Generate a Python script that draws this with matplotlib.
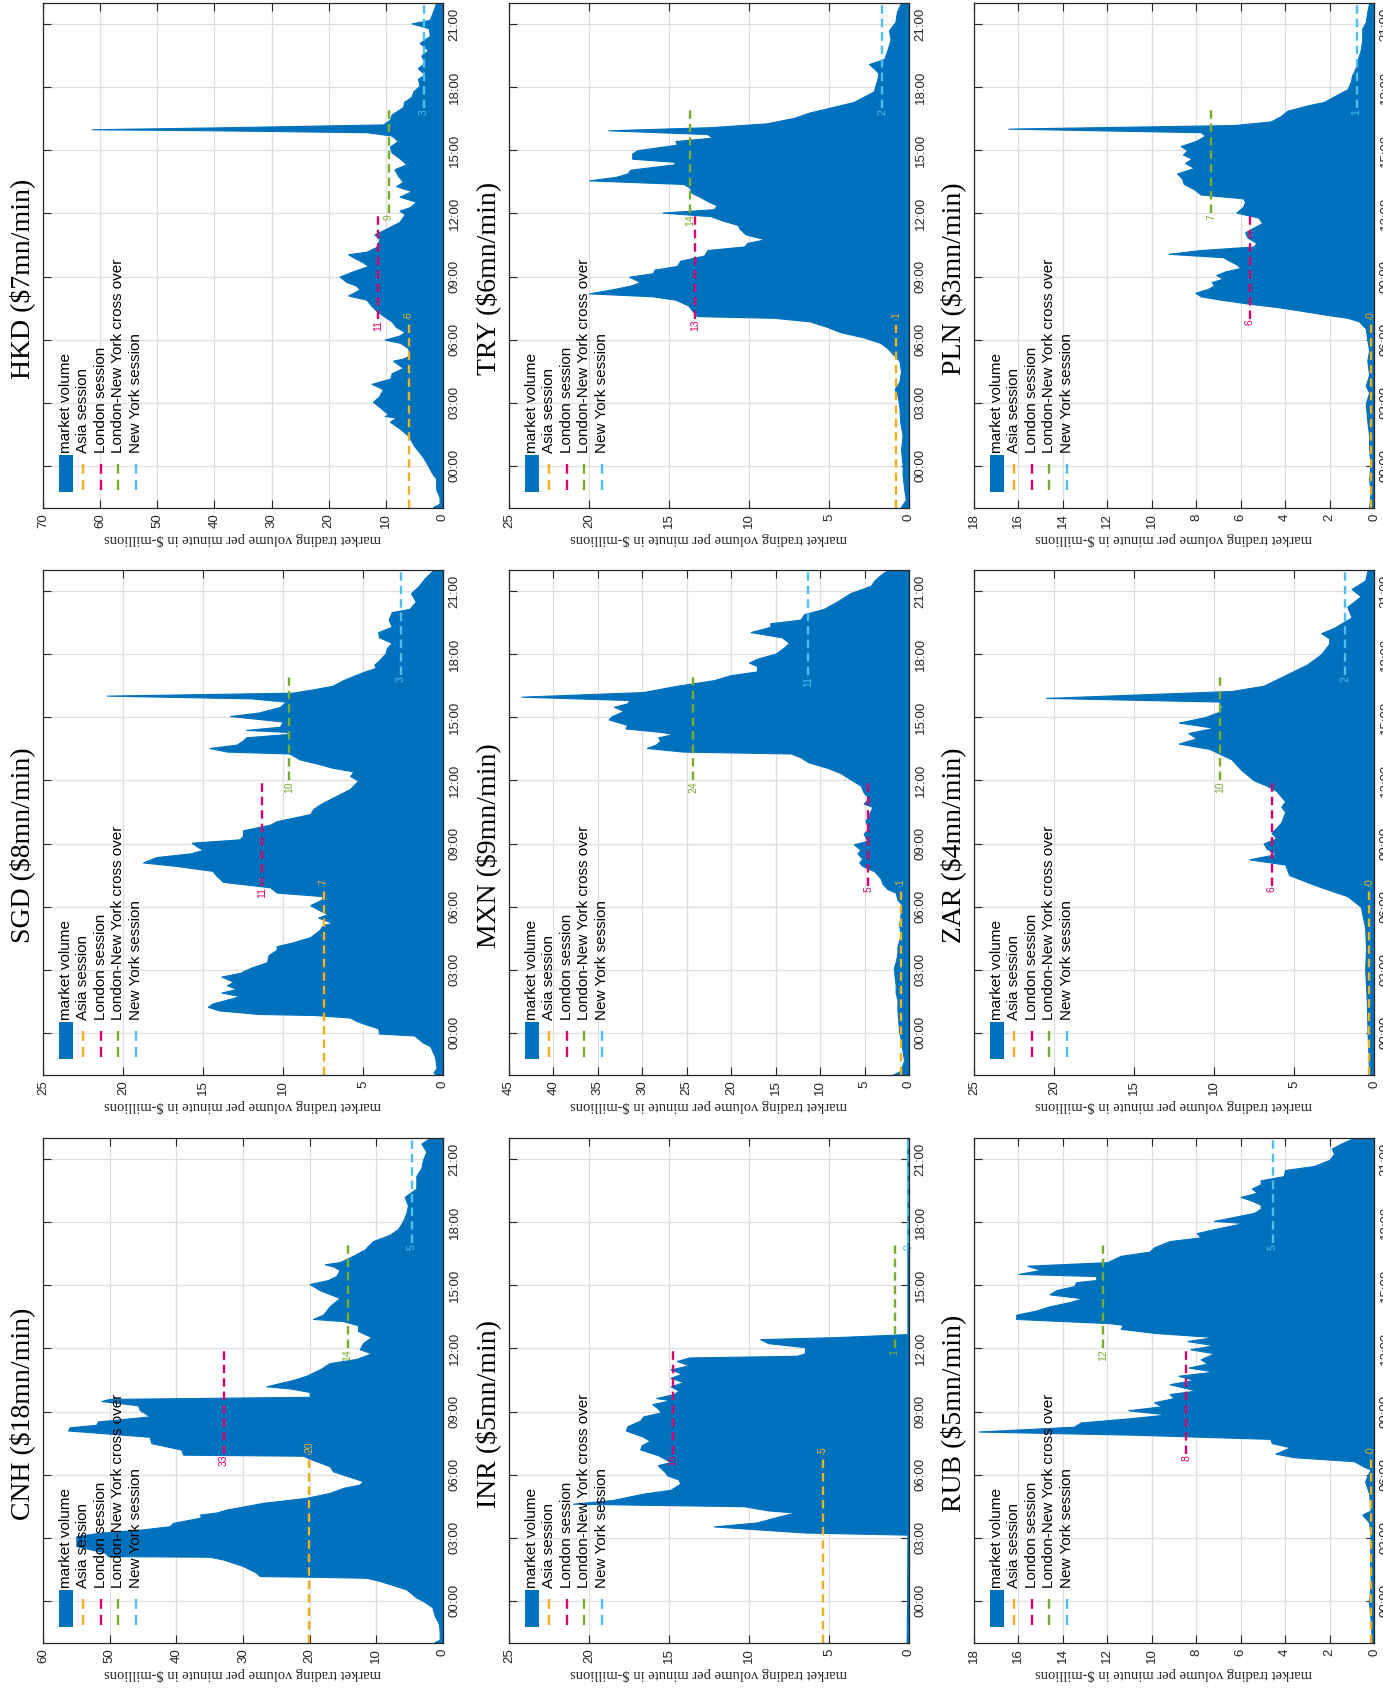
import matplotlib
matplotlib.use("Agg")
import matplotlib.pyplot as plt
from matplotlib.patches import Rectangle

# ---------------- data (hour of day, volume in $-millions per minute) ----------------
TIME_TICKS = [0, 3, 6, 9, 12, 15, 18, 21]
TIME_LABELS = ["00:00", "03:00", "06:00", "09:00", "12:00", "15:00", "18:00", "21:00"]
LEGEND_LABELS = ["market volume", "Asia session", "London session",
                 "London-New York cross over", "New York session"]
SESSION_SPANS = [(-2, 7), (7, 12), (12, 17), (17, 22)]

HKD_PROFILE = [(-2.0, 0.3), (-1.95, 1.75), (-1.8, 0.6), (-1.5, 0.6), (-1.1, 1.2), (-0.6, 1.2),
    (-0.42, 1.75), (0.0, 2.6), (0.42, 3.5), (0.93, 5.0), (1.44, 6.1), (1.78, 7.6), (2.1, 9.3),
    (2.3, 8.2), (2.37, 10.2), (2.45, 9.6), (2.8, 11.1), (3.05, 12.25), (3.3, 11.2), (3.65, 10.5),
    (3.9, 12.5), (4.15, 9.2), (4.4, 9.0), (4.66, 7.0), (5.0, 8.75), (5.1, 7.0), (5.25, 5.8),
    (5.6, 6.1), (5.85, 7.5), (6.0, 10.2), (6.2, 7.6), (6.36, 6.7), (6.6, 8.2), (6.87, 9.0),
    (7.2, 10.8), (7.38, 11.7), (7.6, 12.5), (7.9, 13.4), (8.1, 16.6), (8.25, 15.5), (8.4, 14.6),
    (8.57, 15.2), (8.74, 16.9), (9.0, 18.1), (9.25, 15.75), (9.5, 13.1), (9.67, 14.0),
    (9.92, 15.75), (10.06, 16.6), (10.18, 13.4), (10.4, 11.7), (10.77, 11.1), (11.0, 12.0),
    (11.28, 9.9), (11.6, 7.6), (11.96, 6.7), (12.13, 7.6), (12.3, 5.8), (12.55, 4.7), (12.8, 7.6),
    (13.06, 5.5), (13.3, 8.2), (13.5, 7.0), (13.8, 7.9), (14.1, 8.5), (14.33, 6.4), (14.6, 7.5),
    (14.9, 9.0), (15.18, 9.3), (15.44, 7.9), (15.7, 9.0), (15.86, 13.4), (15.95, 40.0),
    (16.0, 61.5), (16.1, 36.8), (16.23, 10.5), (16.45, 9.3), (16.7, 9.0), (17.05, 7.0),
    (17.3, 6.8), (17.55, 5.5), (17.8, 5.2), (18.07, 4.1), (18.4, 4.4), (18.6, 3.2), (18.9, 4.4),
    (19.17, 3.2), (19.5, 3.8), (19.76, 2.6), (20.1, 4.1), (20.44, 2.3), (20.8, 2.5), (21.03, 5.5),
    (21.2, 2.3), (21.6, 1.75), (22.0, 1.2)]

SGD_PROFILE = [(-2.0, 0.3), (-1.9, 0.6), (-1.65, 0.4), (-1.14, 0.5), (-0.63, 0.8), (-0.46, 1.25),
    (-0.12, 1.8), (-0.03, 4.0), (0.22, 4.05), (0.4, 4.8), (0.56, 5.4), (0.73, 5.8), (0.85, 8.0),
    (0.9, 11.5), (1.07, 14.0), (1.24, 14.7), (1.4, 14.4), (1.58, 13.5), (1.75, 12.7),
    (1.92, 13.85), (2.09, 12.9), (2.26, 13.5), (2.43, 13.1), (2.68, 13.85), (2.85, 12.7),
    (3.1, 12.0), (3.36, 11.0), (3.7, 10.9), (3.95, 10.4), (4.12, 10.4), (4.3, 9.4), (4.55, 8.3),
    (4.9, 7.7), (5.14, 7.5), (5.22, 6.9), (5.48, 7.8), (5.65, 7.2), (5.82, 7.7), (6.07, 8.3),
    (6.33, 7.6), (6.5, 7.5), (6.67, 10.4), (6.92, 10.8), (7.18, 13.75), (7.5, 14.2), (7.7, 14.4),
    (7.94, 16.7), (8.1, 18.75), (8.36, 17.9), (8.53, 15.8), (8.7, 15.0), (8.87, 15.4),
    (9.04, 15.7), (9.2, 12.7), (9.38, 12.5), (9.63, 12.5), (9.9, 10.8), (10.06, 10.4),
    (10.4, 8.3), (10.65, 8.1), (10.9, 7.6), (11.25, 6.7), (11.6, 5.8), (11.76, 5.6), (12.0, 5.3),
    (12.2, 5.8), (12.43, 5.6), (12.6, 6.9), (12.77, 7.7), (13.0, 8.96), (13.28, 9.6),
    (13.37, 13.5), (13.54, 14.6), (13.7, 12.9), (13.9, 12.5), (14.05, 12.3), (14.2, 9.8),
    (14.3, 9.6), (14.4, 12.3), (14.55, 10.2), (14.8, 10.0), (15.06, 13.3), (15.23, 11.5),
    (15.49, 10.2), (15.74, 9.8), (15.9, 12.0), (16.03, 21.0), (16.17, 9.4), (16.33, 8.1),
    (16.5, 6.9), (16.76, 6.25), (17.0, 5.5), (17.2, 4.8), (17.35, 4.2), (17.5, 4.3), (17.7, 4.0),
    (18.03, 3.6), (18.3, 3.5), (18.54, 3.2), (18.8, 4.0), (19.05, 4.05), (19.3, 3.2),
    (19.64, 3.4), (20.0, 3.2), (20.15, 2.1), (20.5, 1.7), (20.9, 2.0), (21.25, 1.5),
    (21.6, 1.15), (22.0, 0.6)]

CNH_PROFILE = [(-2.0, 0.5), (-1.95, 1.25), (-1.85, 0.5), (-1.5, 0.5), (-1.1, 0.6), (-0.7, 1.25),
    (-0.3, 1.6), (0.0, 3.0), (0.16, 4.0), (0.55, 5.5), (0.95, 9.5), (1.1, 11.5), (1.15, 20.0),
    (1.18, 27.5), (1.34, 28.0), (1.5, 29.0), (1.66, 30.0), (1.97, 33.0), (2.1, 35.0),
    (2.13, 50.25), (2.3, 50.75), (2.6, 55.0), (2.85, 55.0), (3.08, 55.0), (3.24, 51.5),
    (3.4, 45.0), (3.55, 41.0), (3.71, 40.5), (3.95, 36.5), (4.03, 36.25), (4.1, 36.5),
    (4.2, 34.0), (4.34, 32.5), (4.66, 27.0), (4.9, 20.5), (5.13, 17.0), (5.37, 15.0),
    (5.53, 12.5), (5.69, 12.0), (5.85, 13.5), (6.16, 16.5), (6.4, 17.0), (6.7, 19.5),
    (6.9, 21.0), (6.95, 39.0), (7.19, 39.25), (7.5, 43.75), (7.8, 44.0), (7.95, 50.0),
    (8.1, 56.25), (8.25, 56.0), (8.37, 52.0), (8.53, 51.75), (8.77, 44.0), (9.08, 45.5),
    (9.3, 45.75), (9.5, 51.25), (9.6, 50.0), (9.7, 20.0), (9.93, 20.0), (10.1, 23.0),
    (10.2, 26.5), (10.5, 22.5), (10.7, 20.5), (11.0, 18.5), (11.3, 17.0), (11.5, 13.0),
    (11.77, 10.75), (11.96, 12.5), (12.25, 12.0), (12.54, 10.75), (12.83, 12.75), (13.1, 12.75),
    (13.3, 15.0), (13.4, 19.5), (13.6, 18.0), (14.0, 17.0), (14.4, 15.5), (14.77, 18.5),
    (15.06, 20.0), (15.25, 17.25), (15.44, 16.0), (15.73, 15.5), (15.9, 16.5), (16.0, 17.75),
    (16.1, 15.5), (16.4, 13.5), (16.7, 11.75), (17.1, 10.5), (17.4, 8.0), (17.67, 6.75),
    (18.05, 6.0), (18.44, 5.5), (18.8, 5.25), (19.2, 5.75), (19.6, 4.0), (20.2, 4.0),
    (20.57, 3.25), (20.96, 3.0), (21.35, 2.5), (21.73, 3.25), (22.0, 2.0)]

TRY_PROFILE = [(-2.0, 0.3), (-1.95, 0.5), (-1.6, 0.2), (-1.1, 0.3), (-0.42, 0.4), (0.08, 0.4),
    (0.76, 0.5), (1.44, 0.4), (2.12, 0.55), (2.8, 0.6), (3.3, 0.7), (3.65, 0.9), (4.0, 0.6),
    (4.5, 0.5), (5.0, 0.6), (5.34, 1.05), (5.6, 1.35), (5.85, 1.8), (6.1, 2.8), (6.36, 4.3),
    (6.6, 5.1), (6.87, 6.2), (7.04, 8.45), (7.12, 13.25), (7.38, 13.55), (7.63, 13.8),
    (7.9, 14.6), (8.06, 16.0), (8.2, 20.0), (8.4, 18.5), (8.57, 17.4), (8.74, 16.8),
    (8.99, 17.5), (9.16, 16.0), (9.33, 15.9), (9.5, 14.5), (9.75, 14.3), (10.0, 12.8),
    (10.26, 12.6), (10.43, 10.3), (10.6, 10.1), (10.77, 9.0), (11.0, 10.2), (11.28, 10.6),
    (11.45, 10.7), (11.7, 11.8), (11.87, 12.4), (12.04, 15.4), (12.2, 12.2), (12.38, 12.0),
    (12.55, 12.5), (12.8, 13.1), (12.98, 13.6), (13.23, 13.7), (13.4, 14.1), (13.57, 20.0),
    (13.74, 18.3), (13.9, 17.6), (14.08, 17.4), (14.33, 14.7), (14.45, 14.6), (14.6, 17.3),
    (14.84, 17.3), (15.0, 17.0), (15.27, 14.5), (15.44, 14.6), (15.6, 12.3), (15.77, 12.6),
    (15.95, 18.8), (16.1, 12.4), (16.28, 8.9), (16.54, 7.2), (16.8, 6.2), (17.05, 4.8),
    (17.3, 3.45), (17.56, 2.8), (17.8, 2.2), (18.07, 2.1), (18.32, 2.0), (18.66, 1.9),
    (18.9, 2.2), (19.1, 2.5), (19.34, 1.55), (19.76, 1.35), (20.27, 1.15), (20.7, 1.25),
    (21.1, 0.85), (21.6, 0.75), (22.0, 0.5)]

MXN_PROFILE = [(-2.0, 1.9), (-1.8, 0.94), (-1.3, 0.56), (-0.8, 0.75), (-0.3, 0.94), (0.05, 1.1),
    (0.56, 1.2), (1.07, 1.3), (1.58, 1.3), (1.9, 1.5), (2.26, 1.5), (2.6, 1.6), (3.1, 1.7),
    (3.36, 1.5), (3.78, 1.3), (4.12, 1.3), (4.63, 0.94), (5.14, 1.1), (5.65, 0.94), (6.07, 0.75),
    (6.33, 1.3), (6.67, 1.5), (6.84, 2.44), (7.1, 3.0), (7.35, 3.2), (7.68, 3.9), (7.94, 5.26),
    (8.1, 5.6), (8.28, 5.26), (8.53, 5.8), (8.7, 5.45), (8.96, 6.2), (9.13, 4.7), (9.47, 5.1),
    (9.72, 4.5), (10.06, 4.9), (10.4, 4.5), (10.74, 4.1), (10.9, 5.1), (11.16, 4.5),
    (11.42, 5.1), (11.76, 5.45), (12.0, 6.4), (12.35, 7.7), (12.6, 9.2), (12.86, 11.3),
    (13.1, 12.2), (13.28, 13.3), (13.37, 25.4), (13.54, 29.5), (13.7, 28.5), (13.88, 28.0),
    (14.05, 28.2), (14.2, 26.5), (14.3, 27.8), (14.47, 31.9), (14.64, 31.7), (14.9, 33.8),
    (15.06, 33.4), (15.3, 32.1), (15.5, 33.2), (15.66, 31.7), (15.82, 31.4), (15.98, 43.6),
    (16.2, 29.9), (16.5, 26.1), (16.76, 22.0), (17.0, 20.1), (17.18, 17.1), (17.44, 17.1),
    (17.6, 18.0), (17.78, 17.1), (18.03, 15.0), (18.3, 14.1), (18.54, 13.5), (18.8, 14.3),
    (19.05, 17.8), (19.3, 15.6), (19.47, 15.6), (19.64, 12.2), (19.9, 11.8), (20.15, 9.6),
    (20.5, 8.1), (20.9, 6.6), (21.25, 4.3), (21.5, 3.9), (21.76, 3.2), (22.0, 2.44)]

INR_PROFILE = [(-2.0, 0.15), (0.0, 0.12), (3.0, 0.1), (3.15, 0.1), (3.25, 6.5), (3.54, 12.2),
    (3.73, 9.5), (4.0, 8.2), (4.2, 7.1), (4.3, 8.8), (4.5, 10.3), (4.62, 21.0), (4.8, 18.5),
    (5.1, 16.6), (5.28, 14.9), (5.57, 14.3), (5.77, 14.4), (5.96, 15.1), (6.16, 15.3),
    (6.45, 15.7), (6.6, 14.9), (6.93, 15.7), (7.2, 16.8), (7.4, 16.7), (7.6, 16.2), (7.8, 16.6),
    (8.1, 17.7), (8.3, 17.6), (8.57, 16.8), (8.77, 16.6), (8.96, 15.5), (9.15, 15.7),
    (9.35, 16.05), (9.54, 14.9), (9.64, 15.8), (9.83, 14.7), (10.0, 14.4), (10.2, 14.9),
    (10.4, 14.1), (10.6, 14.9), (10.8, 14.2), (11.0, 14.9), (11.2, 13.75), (11.4, 14.5),
    (11.57, 13.75), (11.65, 7.0), (11.77, 6.5), (12.06, 6.5), (12.25, 8.8), (12.44, 9.3),
    (12.54, 4.45), (12.68, 0.1), (22.0, 0.1)]

PLN_PROFILE = [(-2.0, 0.22), (-1.27, 0.15), (-0.6, 0.22), (0.08, 0.15), (0.76, 0.22), (1.44, 0.22),
    (2.12, 0.3), (2.97, 0.37), (3.48, 0.22), (3.82, 0.37), (4.33, 0.22), (5.0, 0.3), (5.5, 0.22),
    (6.0, 0.3), (6.53, 0.37), (6.87, 0.68), (7.04, 1.2), (7.2, 2.25), (7.38, 3.3), (7.55, 4.35),
    (7.72, 5.7), (7.9, 6.9), (8.06, 7.8), (8.23, 8.04), (8.4, 7.5), (8.57, 7.2), (8.74, 7.3),
    (8.9, 6.8), (9.07, 7.1), (9.24, 6.7), (9.41, 6.0), (9.58, 6.2), (9.75, 6.5), (9.92, 6.8),
    (10.08, 9.24), (10.26, 7.8), (10.43, 5.4), (10.6, 5.3), (10.86, 5.7), (11.1, 5.8),
    (11.28, 5.5), (11.54, 5.03), (11.8, 5.2), (12.04, 6.2), (12.3, 5.9), (12.55, 5.8),
    (12.72, 5.9), (12.9, 7.8), (13.15, 8.1), (13.4, 8.56), (13.66, 8.64), (13.9, 8.86),
    (14.16, 8.1), (14.4, 8.5), (14.6, 8.2), (14.8, 8.6), (15.0, 8.4), (15.2, 8.7), (15.45, 8.0),
    (15.7, 7.6), (15.86, 7.8), (16.03, 16.45), (16.2, 6.3), (16.37, 4.65), (16.62, 4.2),
    (16.88, 3.9), (17.13, 3.0), (17.3, 2.25), (17.56, 1.8), (17.9, 1.2), (18.24, 1.05),
    (18.57, 0.98), (18.9, 0.83), (19.25, 0.75), (19.76, 0.6), (20.27, 0.53), (20.78, 0.53),
    (21.1, 0.37), (21.6, 0.3), (22.0, 0.22)]

ZAR_PROFILE = [(-2.0, 0.3), (-1.0, 0.35), (0.0, 0.4), (1.5, 0.45), (3.0, 0.55), (4.0, 0.5),
    (5.0, 0.55), (6.0, 0.83), (6.5, 1.67), (7.0, 3.6), (7.5, 5.3), (8.0, 5.55), (8.25, 7.8),
    (8.5, 6.1), (8.75, 6.7), (9.0, 6.9), (9.25, 6.1), (9.5, 6.4), (9.75, 6.1), (10.0, 5.8),
    (10.5, 5.55), (10.75, 5.8), (11.0, 5.55), (11.5, 6.1), (11.75, 6.7), (12.0, 7.5),
    (12.5, 8.3), (13.0, 8.9), (13.5, 10.3), (13.75, 12.2), (14.0, 11.1), (14.25, 11.6),
    (14.5, 10.0), (14.75, 12.2), (15.0, 10.6), (15.25, 9.7), (15.5, 9.5), (15.75, 9.7),
    (15.92, 20.5), (16.1, 14.2), (16.25, 8.9), (16.5, 6.9), (17.0, 5.55), (17.5, 4.2),
    (18.0, 3.3), (18.5, 2.8), (18.75, 2.8), (19.0, 3.3), (19.25, 2.5), (19.75, 1.4),
    (20.25, 1.67), (20.75, 0.83), (21.1, 1.4), (21.5, 0.55), (22.0, 0.4)]

RUB_PROFILE = [(-2.0, 0.1), (-1.88, 0.1), (-0.9, 0.15), (-0.14, 0.22), (1.0, 0.15), (2.0, 0.18),
    (2.96, 0.15), (3.73, 0.22), (4.1, 0.53), (4.3, 0.15), (5.1, 0.22), (5.67, 0.4), (5.96, 0.3),
    (6.25, 0.15), (6.35, 0.4), (6.64, 0.9), (6.83, 3.6), (7.0, 4.44), (7.3, 3.76), (7.5, 4.6),
    (7.7, 4.66), (7.9, 10.8), (8.05, 17.8), (8.28, 13.5), (8.48, 13.2), (8.67, 11.1),
    (8.86, 9.3), (9.06, 11.05), (9.25, 9.55), (9.44, 9.9), (9.64, 9.0), (9.83, 9.2), (10.0, 8.0),
    (10.3, 9.2), (10.5, 8.1), (10.7, 8.8), (10.9, 7.2), (11.09, 8.35), (11.28, 7.5),
    (11.48, 7.8), (11.77, 7.2), (11.96, 8.27), (12.15, 7.2), (12.35, 8.4), (12.54, 7.2),
    (12.73, 9.8), (12.93, 11.4), (13.12, 11.3), (13.2, 11.9), (13.4, 16.1), (13.6, 16.1),
    (13.8, 15.2), (14.0, 14.6), (14.2, 13.7), (14.38, 13.1), (14.57, 14.6), (14.77, 14.3),
    (14.96, 13.5), (15.15, 13.4), (15.25, 12.5), (15.44, 12.5), (15.54, 16.0), (15.73, 15.0),
    (15.93, 15.6), (16.1, 12.0), (16.4, 11.4), (16.6, 10.1), (16.8, 9.9), (17.1, 9.2),
    (17.28, 7.8), (17.48, 7.97), (17.67, 7.2), (17.96, 5.86), (18.06, 7.2), (18.25, 6.3),
    (18.44, 5.4), (18.64, 5.1), (18.83, 5.1), (19.02, 5.5), (19.2, 6.0), (19.4, 5.26),
    (19.6, 5.5), (19.8, 5.1), (19.99, 5.1), (20.19, 4.06), (20.48, 4.0), (20.67, 2.7),
    (20.96, 2.0), (21.25, 1.8), (21.5, 1.9), (21.8, 1.35), (22.0, 0.9)]

# session averages (Asia, London, London-NY cross over, New York) and their printed labels
HKD_SESSIONS = [5.95, 11.4, 9.5, 3.4];   HKD_LABELS = [6, 11, 9, 3]
SGD_SESSIONS = [7.45, 11.3, 9.6, 2.65];  SGD_LABELS = [7, 11, 10, 3]
CNH_SESSIONS = [20.1, 32.9, 14.3, 4.65]; CNH_LABELS = [20, 33, 14, 5]
TRY_SESSIONS = [0.8, 13.36, 13.67, 1.67]; TRY_LABELS = [1, 13, 14, 2]
MXN_SESSIONS = [0.94, 4.6, 24.3, 11.35]; MXN_LABELS = [1, 5, 24, 11]
INR_SESSIONS = [5.4, 14.76, 0.9, 0.05];  INR_LABELS = [5, 15, 1, 0]
PLN_SESSIONS = [0.15, 5.6, 7.33, 0.78];  PLN_LABELS = [0, 6, 7, 1]
ZAR_SESSIONS = [0.3, 6.4, 9.6, 1.8];     ZAR_LABELS = [0, 6, 10, 2]
RUB_SESSIONS = [0.15, 8.45, 12.18, 4.56]; RUB_LABELS = [0, 8, 12, 5]

PANELS = [
    # title, profile, y max, tick step, sessions, labels, column, row
    ("HKD ($7mn/min)", HKD_PROFILE, 70, 10, HKD_SESSIONS, HKD_LABELS, 0, 0),
    ("SGD ($8mn/min)", SGD_PROFILE, 25, 5, SGD_SESSIONS, SGD_LABELS, 0, 1),
    ("CNH ($18mn/min)", CNH_PROFILE, 60, 10, CNH_SESSIONS, CNH_LABELS, 0, 2),
    ("TRY ($6mn/min)", TRY_PROFILE, 25, 5, TRY_SESSIONS, TRY_LABELS, 1, 0),
    ("MXN ($9mn/min)", MXN_PROFILE, 45, 5, MXN_SESSIONS, MXN_LABELS, 1, 1),
    ("INR ($5mn/min)", INR_PROFILE, 25, 5, INR_SESSIONS, INR_LABELS, 1, 2),
    ("PLN ($3mn/min)", PLN_PROFILE, 18, 2, PLN_SESSIONS, PLN_LABELS, 2, 0),
    ("ZAR ($4mn/min)", ZAR_PROFILE, 25, 5, ZAR_SESSIONS, ZAR_LABELS, 2, 1),
    ("RUB ($5mn/min)", RUB_PROFILE, 18, 2, RUB_SESSIONS, RUB_LABELS, 2, 2),
]

# ---------------- style ----------------
BLUE = "#0072BD"
SESSION_COLORS = ["#EDB120", "#D7006E", "#77AC30", "#4DBEEE"]
AX_COLOR = "#262626"
GRID_COLOR = "#dedede"
SANS = ["Liberation Sans", "DejaVu Sans"]
SERIF = ["Liberation Serif", "DejaVu Serif"]

W, H = 1383, 1689
COL_LEFT = [43, 509, 974]
ROW_TOP = [3, 570, 1138]
AX_W, AX_H = 400, 505

fig = plt.figure(figsize=(W / 100, H / 100), dpi=100)
fig.patch.set_facecolor("white")

for title, profile, vmax, step, sess, labels, col, row in PANELS:
    left, top = COL_LEFT[col], ROW_TOP[row]
    ax = fig.add_axes([left / W, 1 - (top + AX_H) / H, AX_W / W, AX_H / H])
    hours = [p[0] for p in profile]
    vols = [p[1] for p in profile]
    ax.fill_betweenx(hours, 0, vols, facecolor=BLUE, edgecolor=BLUE, lw=0.8, zorder=2)

    ax.set_xlim(vmax, 0)
    ax.set_ylim(-2, 22)
    xt = list(range(0, vmax + 1, step))
    ax.set_xticks(xt)
    ax.set_xticklabels([str(v) for v in xt], rotation=90, fontsize=9.5, family=SANS,
                       color=AX_COLOR)
    ax.set_yticks(TIME_TICKS)
    ax.set_yticklabels(TIME_LABELS, rotation=90, va="center", fontsize=9.5, family=SANS,
                       color=AX_COLOR)
    ax.tick_params(axis="both", direction="in", length=6, width=0.8, color=AX_COLOR,
                   top=True, bottom=True, left=True, right=True,
                   labelleft=False, labelright=True, labelbottom=True, labeltop=False)
    ax.tick_params(axis="x", pad=4)
    ax.tick_params(axis="y", pad=4)
    ax.grid(True, color=GRID_COLOR, lw=0.9)
    ax.set_axisbelow(True)
    for sp in ax.spines.values():
        sp.set_color(AX_COLOR)
        sp.set_linewidth(0.9)
        sp.set_zorder(6)

    # session average lines and labels
    for i, (val, lab) in enumerate(zip(sess, labels)):
        t0, t1 = SESSION_SPANS[i]
        ax.plot([val, val], [t0, t1], color=SESSION_COLORS[i], lw=1.7,
                dashes=(3.6, 2.1), zorder=3, solid_capstyle="butt", dash_capstyle="butt")
        if i == 0:
            ax.text(val, t1 + 0.05, str(lab), rotation=90, ha="center", va="bottom",
                    fontsize=7.5, color=SESSION_COLORS[i], family=SANS, zorder=4)
        else:
            ax.text(val, t0 - 0.05, str(lab), rotation=90, ha="center", va="top",
                    fontsize=7.5, color=SESSION_COLORS[i], family=SANS, zorder=4)

    # manual rotated legend (no box)
    xs = [0.0575 + 0.0435 * k for k in range(5)]
    ax.add_patch(Rectangle((xs[0] - 0.0185, 0.032), 0.037, 0.073, transform=ax.transAxes,
                           facecolor=BLUE, edgecolor="none", zorder=5))
    for k in range(1, 5):
        ax.plot([xs[k], xs[k]], [0.036, 0.0875], transform=ax.transAxes,
                color=SESSION_COLORS[k - 1], lw=1.7, dashes=(4.3, 2.6), zorder=5)
    for k, lab in enumerate(LEGEND_LABELS):
        ax.text(xs[k], 0.109, lab, transform=ax.transAxes, rotation=90, ha="center",
                va="bottom", fontsize=11, family=SANS, color="black", zorder=5)

    # y-label (upside down) below, title at left
    ax.text(0.5, -31 / AX_H, "market trading volume per minute in $-millions",
            transform=ax.transAxes, rotation=180, ha="center", va="center",
            fontsize=10.5, family=SERIF, color=AX_COLOR)
    fig.text((left - 21) / W, 1 - (top + AX_H / 2 + 23) / H, title, rotation=90,
             ha="center", va="center", fontsize=20, family=SERIF, color="black")

fig.savefig("out.png", dpi=100, facecolor="white")
